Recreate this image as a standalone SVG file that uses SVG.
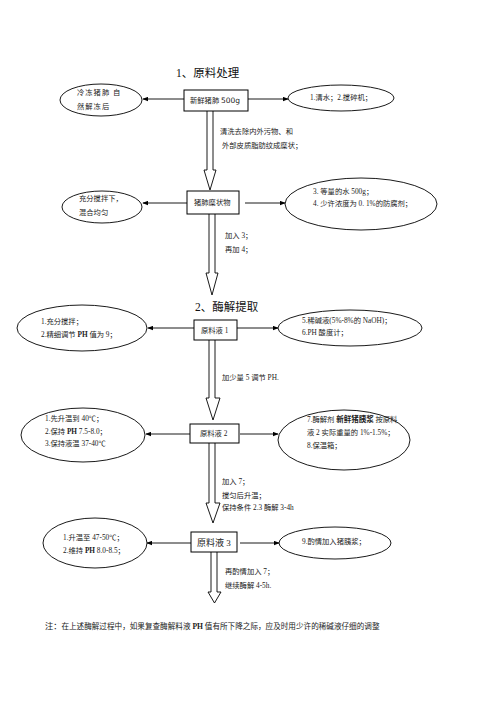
<svg xmlns="http://www.w3.org/2000/svg" width="496" height="702" viewBox="0 0 496 702">
<style>
text{font-family:"Liberation Serif","Noto Sans CJK SC",serif;fill:#222;font-size:7.3px}
.t{font-size:11.5px;fill:#111}
.n{fill:#fff;stroke:#000;stroke-width:1}
.e{fill:#fff;stroke:#000;stroke-width:0.9}
.c line{stroke:#000;stroke-width:0.9}
.b{fill:#fff;stroke:#000;stroke-width:0.9}
.bd{font-weight:bold}
</style>
<defs>
<marker id="ah" viewBox="0 0 8 6" refX="7" refY="3" markerWidth="6" markerHeight="5" orient="auto-start-reverse" markerUnits="userSpaceOnUse">
<path d="M0,0 L8,3 L0,6 Z" fill="#000"/>
</marker>
</defs>
<rect width="496" height="702" fill="#fff"/>
<text class="t" x="176" y="77">1、原料处理</text>
<text class="t" x="195" y="311">2、酶解提取</text>

<g class="c" id="connectors">
<line x1="184" y1="99" x2="143" y2="99" marker-end="url(#ah)"/>
<line x1="248" y1="99" x2="288" y2="99" marker-end="url(#ah)"/>
<line x1="187" y1="203" x2="143" y2="203" marker-end="url(#ah)"/>
<line x1="245" y1="203" x2="285" y2="203" marker-end="url(#ah)"/>
<line x1="194" y1="328" x2="148" y2="328" marker-end="url(#ah)"/>
<line x1="237" y1="328" x2="278" y2="328" marker-end="url(#ah)"/>
<line x1="190" y1="434" x2="146" y2="434" marker-end="url(#ah)"/>
<line x1="240" y1="434" x2="278" y2="434" marker-end="url(#ah)"/>
<line x1="191" y1="543" x2="147" y2="543" marker-end="url(#ah)"/>
<line x1="240" y1="543" x2="279" y2="543" marker-end="url(#ah)"/>
<path class="b" d="M207,111 V170 H204 L210,190 L216,170 H213 V111"/>
<path class="b" d="M209,214 V273 H206 L212,295 L218,273 H215 V214"/>
<path class="b" d="M209,340 V398 H206 L213,420 L220,398 H215 V340"/>
<path class="b" d="M209,443 V503 H206 L213,523 L220,503 H215 V443"/>
<path class="b" d="M211,552 V592 H208 L214.5,603 L221,592 H217 V552"/>
</g>

<g id="box1"><rect class="n" x="184" y="90" width="64" height="21"/><text x="190" y="103">新鲜猪肺 <tspan style="font-family:'DejaVu Sans',sans-serif;font-size:7.5px">500g</tspan></text></g>
<g id="ell1l"><ellipse class="e" cx="101" cy="100" rx="41" ry="16"/><text x="77" y="95" letter-spacing="1">冷冻猪肺  自</text><text x="77" y="109" letter-spacing="1">然解冻后</text></g>
<g id="ell1r"><ellipse class="e" cx="341" cy="98" rx="53" ry="13"/><text x="310" y="100">1.清水；2.搅碎机；</text></g>
<g id="lbl1"><text x="220" y="134">清洗去除内外污物、和</text><text x="222" y="148">外部皮质脂肪纹成糜状；</text></g>

<g id="box2"><rect class="n" x="187" y="191" width="52" height="23"/><text x="194" y="205">猪肺糜状物</text></g>
<g id="ell2l"><ellipse class="e" cx="102" cy="207" rx="40" ry="16"/><text x="79" y="201">充分搅拌下，</text><text x="79" y="215">混合均匀</text></g>
<g id="ell2r"><ellipse class="e" cx="361" cy="204" rx="76" ry="26"/><text x="313" y="194">3. 等量的水 500g；</text><text x="313" y="206">4. 少许浓度为 0. 1%的防腐剂；</text></g>
<g id="lbl2"><text x="225" y="238">加入 3；</text><text x="225" y="252">再加 4；</text></g>

<g id="box3"><rect class="n" x="194" y="320" width="43" height="20"/><text x="201" y="333">原料液 1</text></g>
<g id="ell3l"><ellipse class="e" cx="82" cy="328" rx="65" ry="23"/><text x="41" y="324">1.充分搅拌；</text><text x="41" y="337">2.精细调节 <tspan class="bd">PH</tspan> 值为 9；</text></g>
<g id="ell3r"><ellipse class="e" cx="350" cy="328" rx="72" ry="18"/><text x="302" y="323">5.稀碱液(5%-8%的 NaOH)；</text><text x="302" y="335">6.PH 酸度计；</text></g>
<g id="lbl3"><text x="222" y="380">加少量 5 调节 PH.</text></g>

<g id="box4"><rect class="n" x="190" y="424" width="49" height="19"/><text x="200" y="436">原料液 2</text></g>
<g id="ell4l"><ellipse class="e" cx="83" cy="435" rx="62" ry="27"/><text x="45" y="421">1.先升温到 40℃；</text><text x="45" y="434">2.保持 <tspan class="bd">PH</tspan> 7.5-8.0；</text><text x="45" y="446">3.保持液温 37-40℃</text></g>
<g id="ell4r"><ellipse class="e" cx="344" cy="440" rx="66" ry="30"/><text x="307" y="422">7.酶解剂  <tspan class="bd" style="font-size:7.5px">新鲜猪胰浆</tspan>  按原料</text><text x="307" y="435">液 2 实际重量的 1%-1.5%；</text><text x="307" y="448">8.保温箱；</text></g>
<g id="lbl4"><text x="222" y="484">加入 7；</text><text x="222" y="498">搅匀后升温；</text><text x="222" y="510">保持条件 2.3 酶解 3-4h</text></g>

<g id="box5"><rect class="n" x="191" y="532" width="46" height="20"/><text x="197" y="546" style="font-size:9px">原料液 3</text></g>
<g id="ell5l"><ellipse class="e" cx="95" cy="543" rx="52" ry="25"/><text x="63" y="540">1.升温至 47-50℃；</text><text x="63" y="553">2.维持 <tspan class="bd">PH</tspan> 8.0-8.5；</text></g>
<g id="ell5r"><ellipse class="e" cx="335" cy="543" rx="56" ry="16"/><text x="302" y="544">9.酌情加入猪胰浆；</text></g>
<g id="lbl5"><text x="225" y="574">再酌情加入 7；</text><text x="225" y="588">继续酶解 4-5h.</text></g>

<text x="45" y="629" style="font-size:7.6px"><tspan style="font-size:8.2px">注：</tspan>在上述酶解过程中，如果复查酶解料液 <tspan class="bd">PH</tspan> 值有所下降之际，应及时用少许的稀碱液仔细的调整</text>
</svg>
